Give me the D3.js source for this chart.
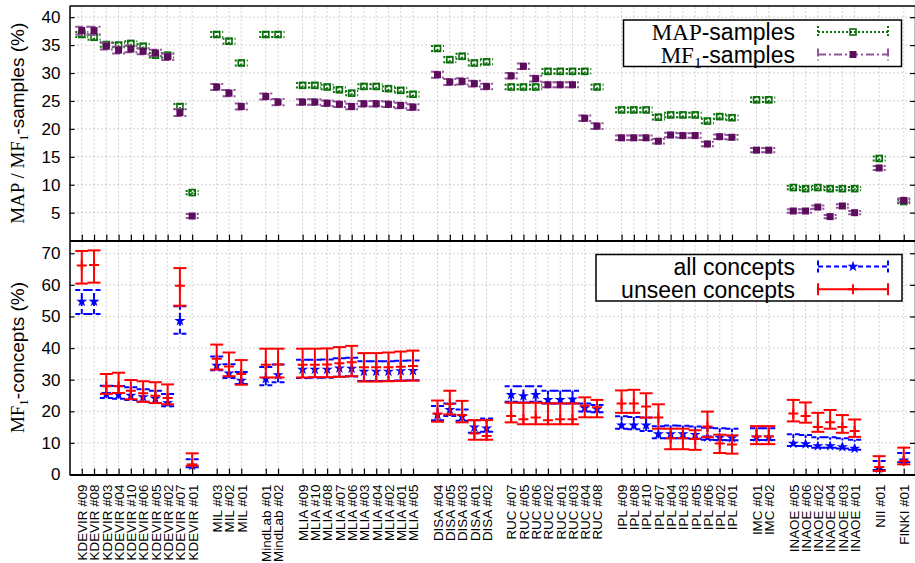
<!DOCTYPE html>
<html><head><meta charset="utf-8">
<script src="https://cdn.jsdelivr.net/npm/d3@7"></script>
<style>body{margin:0;background:#fff}</style>
</head><body><svg id="c" width="915" height="563"></svg>
<script>
// ---------------- data ----------------
const categories = [
 "KDEVIR #09","KDEVIR #08","KDEVIR #03","KDEVIR #04","KDEVIR #10","KDEVIR #06","KDEVIR #05","KDEVIR #02","KDEVIR #07","KDEVIR #01",
 "MIL #03","MIL #02","MIL #01",
 "MindLab #01","MindLab #02",
 "MLIA #09","MLIA #10","MLIA #08","MLIA #07","MLIA #06","MLIA #03","MLIA #04","MLIA #02","MLIA #01","MLIA #05",
 "DISA #04","DISA #05","DISA #03","DISA #01","DISA #02",
 "RUC #07","RUC #05","RUC #06","RUC #02","RUC #01","RUC #03","RUC #04","RUC #08",
 "IPL #09","IPL #08","IPL #10","IPL #07","IPL #04","IPL #03","IPL #05","IPL #06","IPL #02","IPL #01",
 "IMC #01","IMC #02",
 "INAOE #05","INAOE #06","INAOE #02","INAOE #04","INAOE #03","INAOE #01",
 "NII #01",
 "FINKI #01"
];
// top panel: MAP-samples and MF1-samples (value, half-width of bar)
const mapVal = [36.9,36.4,35.1,35.0,35.3,34.8,33.2,33.2,24.0,8.6,
 36.9,35.7,31.8, 36.9,36.9,
 27.8,27.8,27.5,27.0,26.4,27.6,27.6,27.2,26.9,26.2,
 34.4,32.4,33.0,31.8,32.0,
 27.5,27.5,27.5,30.3,30.3,30.3,30.3,27.5,
 23.4,23.4,23.4,22.1,22.5,22.5,22.5,21.4,22.2,22.0,
 25.2,25.2,
 9.5,9.3,9.5,9.3,9.3,9.3,
 14.7,
 7.0];
const mapErr = [0.45,0.45,0.4,0.4,0.4,0.4,0.4,0.4,0.45,0.3,
 0.45,0.45,0.45, 0.45,0.45,
 0.4,0.4,0.4,0.4,0.4,0.4,0.4,0.4,0.4,0.4,
 0.45,0.45,0.45,0.45,0.45,
 0.4,0.4,0.4,0.4,0.4,0.4,0.4,0.4,
 0.4,0.4,0.4,0.4,0.4,0.4,0.4,0.4,0.4,0.4,
 0.4,0.4,
 0.3,0.3,0.3,0.3,0.3,0.3,
 0.35,
 0.3];
const mf1Val = [37.6,37.6,34.8,34.1,34.3,33.9,33.6,32.9,22.9,4.4,
 27.5,26.4,24.0, 25.8,24.8,
 24.8,24.8,24.6,24.4,24.0,24.5,24.5,24.4,24.2,23.9,
 29.7,28.4,28.5,28.1,27.6,
 29.5,31.2,29.0,27.9,27.9,27.9,21.9,20.5,
 18.4,18.4,18.4,17.8,18.9,18.8,18.8,17.3,18.6,18.5,
 16.2,16.2,
 5.3,5.3,6.0,4.3,6.2,5.0,
 13.0,
 7.2];
const mf1Err = [0.7,0.7,0.6,0.6,0.6,0.55,0.55,0.55,0.6,0.35,
 0.55,0.55,0.55, 0.55,0.55,
 0.5,0.5,0.5,0.5,0.5,0.5,0.5,0.5,0.5,0.5,
 0.55,0.55,0.55,0.5,0.5,
 0.5,0.5,0.5,0.45,0.45,0.45,0.5,0.5,
 0.4,0.4,0.4,0.4,0.4,0.4,0.4,0.4,0.4,0.4,
 0.4,0.4,
 0.3,0.3,0.3,0.3,0.3,0.3,
 0.35,
 0.35];
// bottom panel: MF1-concepts, all concepts and unseen concepts (value, low, high)
const allVal = [54.7,54.7,25.5,25.3,25.0,24.5,24.0,22.6,48.6,2.8,
 34.5,32.0,29.7, 30.3,31.5,
 33.2,33.2,33.2,33.6,33.5,32.6,32.6,32.6,32.7,32.8,
 18.9,20.5,18.3,14.9,14.6,
 25.2,24.8,25.2,23.6,23.6,23.8,21.0,20.7,
 15.6,15.6,15.6,12.8,12.8,12.8,12.6,11.8,11.7,11.5,
 11.8,11.8,
 9.8,9.6,9.0,9.0,8.7,8.2,
 1.9,
 4.5];
const allLo = [50.8,50.8,24.2,24.0,23.6,23.0,22.6,21.6,44.5,2.3,
 33.0,30.5,28.6, 28.2,29.2,
 30.5,30.6,30.6,30.9,31.0,29.6,29.6,29.6,29.7,29.8,
 17.2,18.5,17.0,13.2,13.5,
 23.0,22.8,23.0,22.5,22.5,22.5,19.9,19.7,
 14.5,14.3,13.8,11.5,11.5,11.5,11.3,11.0,10.9,10.8,
 10.9,10.9,
 9.0,9.0,8.5,8.5,8.2,7.8,
 1.4,
 3.9];
const allHi = [58.4,58.4,28.1,28.0,27.6,27.0,26.5,25.5,53.2,4.8,
 37.3,34.9,32.4, 34.0,34.8,
 36.3,36.3,36.4,36.8,36.9,35.8,35.8,35.8,36.0,36.1,
 21.7,22.5,20.6,17.2,17.7,
 27.9,27.9,27.9,26.5,26.5,26.5,22.5,22.0,
 18.4,18.2,18.0,15.3,15.5,15.4,15.2,14.8,14.6,14.5,
 14.6,14.6,
 12.7,12.5,11.8,11.8,11.5,11.0,
 4.3,
 6.8];
const unseenVal = [66.1,66.3,27.9,27.9,26.5,25.7,24.9,24.2,59.7,3.2,
 36.6,34.2,31.8, 34.7,34.8,
 34.7,34.7,34.8,35.2,35.5,33.9,33.9,33.9,34.1,34.3,
 19.3,22.3,18.8,13.0,12.2,
 18.5,17.5,18.0,17.2,17.5,17.5,21.8,21.3,
 22.5,22.5,21.5,18.0,11.5,11.5,11.2,15.2,9.8,9.5,
 12.0,12.0,
 19.3,18.5,15.0,16.5,15.0,13.8,
 2.4,
 4.3];
const unseenLo = [60.4,60.7,25.5,25.8,23.8,23.0,22.6,22.2,53.4,2.8,
 33.2,31.1,28.4, 30.7,30.7,
 30.7,30.8,30.8,30.9,31.1,29.4,29.4,29.5,29.6,29.7,
 16.7,19.0,16.5,11.0,11.0,
 16.5,15.9,15.9,15.9,15.9,15.9,18.1,18.1,
 19.5,19.5,18.0,14.5,8.0,8.0,7.8,11.8,6.8,6.6,
 9.6,9.6,
 16.8,16.4,13.5,14.5,13.2,11.9,
 1.1,
 3.2];
const unseenHi = [70.7,70.9,31.8,32.2,29.9,29.5,29.2,28.5,65.3,6.7,
 41.1,38.6,36.2, 39.8,39.8,
 39.8,39.8,39.9,40.3,40.7,38.4,38.4,38.6,38.9,39.2,
 23.4,26.5,23.3,17.2,17.2,
 22.7,22.7,22.7,22.5,22.5,22.5,24.4,23.6,
 26.6,26.8,25.7,22.2,14.5,14.5,14.0,19.9,12.6,12.4,
 15.3,15.3,
 23.6,22.8,19.5,20.4,18.8,17.4,
 5.8,
 8.5];
const topTicks = [5,10,15,20,25,30,35,40];
const bottomTicks = [0,10,20,30,40,50,60,70];

// ---------------- layout ----------------
const svg = d3.select("#c");
const L = 69.5, R = 916;
// group positions: one empty slot between different teams
const team = c => c.split(" ")[0];
const pos = [];
{ let p = 0; categories.forEach((c,i)=>{ if(i>0 && team(c)!==team(categories[i-1])) p++; pos.push(p); p++; }); }
const x = d3.scaleLinear().domain([-1, 68]).range([L, R]);
const yT = d3.scaleLinear().domain([0, 42]).range([240.6, 6]);
const yB = d3.scaleLinear().domain([0, 74]).range([474.5, 240.6]);

const SANS = "'Liberation Sans', Arial, sans-serif";
const SERIF = "'Liberation Serif', 'Times New Roman', serif";

// ---------------- grid ----------------
function grid(yS, ticks) {
  const g = svg.append("g").attr("stroke","#a8a8a8").attr("stroke-width",1).attr("stroke-dasharray","1,3");
  const [y0, y1] = yS.range();
  g.selectAll("line.h").data(ticks.filter(t=>t>0)).join("line")
    .attr("x1", L).attr("x2", R).attr("y1", d=>yS(d)).attr("y2", d=>yS(d));
  g.selectAll("line.v").data(pos).join("line").attr("class","v")
    .attr("x1", d=>x(d)).attr("x2", d=>x(d)).attr("y1", y0).attr("y2", y1);
}
grid(yT, topTicks);
grid(yB, bottomTicks);

// ---------------- error bars ----------------
function errbars(yS, val, lo, hi, st) {
  const g = svg.append("g");
  const cw = 6.5;
  const idx = d3.range(val.length);
  const lines = g.append("g").attr("stroke", st.line).attr("stroke-width", st.w)
    .attr("stroke-dasharray", st.dash || null).attr("fill","none");
  lines.selectAll("line.v").data(idx).join("line")
    .attr("x1", i=>x(pos[i])).attr("x2", i=>x(pos[i])).attr("y1", i=>yS(lo[i])).attr("y2", i=>yS(hi[i]));
  lines.selectAll("line.lo").data(idx).join("line").attr("class","lo")
    .attr("x1", i=>x(pos[i])-cw).attr("x2", i=>x(pos[i])+cw).attr("y1", i=>yS(lo[i])).attr("y2", i=>yS(lo[i]));
  lines.selectAll("line.hi").data(idx).join("line").attr("class","hi")
    .attr("x1", i=>x(pos[i])-cw).attr("x2", i=>x(pos[i])+cw).attr("y1", i=>yS(hi[i])).attr("y2", i=>yS(hi[i]));
  const m = g.append("g");
  idx.forEach(i => drawMarker(m, x(pos[i]), yS(val[i]), st));
}
function drawMarker(g, cx, cy, st) {
  if (st.marker === "osquare") {
    g.append("rect").attr("x", cx-3).attr("y", cy-3).attr("width",6).attr("height",6)
      .attr("fill","none").attr("stroke", st.mcol).attr("stroke-width",1.6);
  } else if (st.marker === "fsquare") {
    g.append("rect").attr("x", cx-3.5).attr("y", cy-3.5).attr("width",7).attr("height",7)
      .attr("fill", st.mcol);
  } else if (st.marker === "star") {
    g.append("path").attr("d", d3.symbol(d3.symbolStar, 38)()).attr("transform",`translate(${cx},${cy})`)
      .attr("fill", st.mcol);
  } else if (st.marker === "plus") {
    g.append("path").attr("d", `M${cx-5},${cy}H${cx+5}M${cx},${cy-5}V${cy+5}`)
      .attr("stroke", st.mcol).attr("stroke-width",2);
  }
}
const stMAP = {line:"#0a6e0a", w:2, dash:"2,2", marker:"osquare", mcol:"#0a6e0a"};
const stMF1 = {line:"#92569a", w:2, dash:"8,3,2,3", marker:"fsquare", mcol:"#5c0d5c"};
const stAll = {line:"#0000ff", w:2, dash:"5,3", marker:"star", mcol:"#0000ff"};
const stUns = {line:"#ff0000", w:2, dash:null, marker:"plus", mcol:"#ff0000"};

errbars(yT, mapVal, mapVal.map((v,i)=>v-mapErr[i]), mapVal.map((v,i)=>v+mapErr[i]), stMAP);
errbars(yT, mf1Val, mf1Val.map((v,i)=>v-mf1Err[i]), mf1Val.map((v,i)=>v+mf1Err[i]), stMF1);
errbars(yB, allVal, allLo, allHi, stAll);
errbars(yB, unseenVal, unseenLo, unseenHi, stUns);

// ---------------- axes ----------------
function styleAxis(g, w) {
  g.select(".domain").attr("stroke","#000").attr("stroke-width", w);
  g.selectAll(".tick line").attr("stroke","#000").attr("stroke-width",1.2);
  g.selectAll(".tick text").attr("fill","#000");
  g.attr("font-family", SANS);
}
// top panel
styleAxis(svg.append("g").attr("transform",`translate(${L},0)`)
  .call(d3.axisLeft(yT).tickValues(topTicks).tickSizeInner(-5).tickSizeOuter(0).tickPadding(9))
  .attr("font-size",17), 1.5);
styleAxis(svg.append("g").attr("transform",`translate(${R-1},0)`)
  .call(d3.axisRight(yT).tickValues(topTicks).tickSizeInner(-5).tickSizeOuter(0).tickFormat("")), 1.5);
styleAxis(svg.append("g").attr("transform",`translate(0,${yT(0)})`)
  .call(d3.axisBottom(x).tickValues(pos).tickSizeInner(-6).tickSizeOuter(0).tickFormat("")), 2);
svg.append("line").attr("x1",L).attr("x2",R).attr("y1",yT.range()[1]).attr("y2",yT.range()[1])
  .attr("stroke","#000").attr("stroke-width",1.5);
// bottom panel
styleAxis(svg.append("g").attr("transform",`translate(${L},0)`)
  .call(d3.axisLeft(yB).tickValues(bottomTicks).tickSizeInner(-5).tickSizeOuter(0).tickPadding(9))
  .attr("font-size",17), 1.5);
styleAxis(svg.append("g").attr("transform",`translate(${R-1},0)`)
  .call(d3.axisRight(yB).tickValues(bottomTicks).tickSizeInner(-5).tickSizeOuter(0).tickFormat("")), 1.5);
const xb = svg.append("g").attr("transform",`translate(0,${yB(0)})`)
  .call(d3.axisBottom(x).tickValues(pos).tickSizeInner(-6).tickSizeOuter(0)
    .tickFormat((d)=>categories[pos.indexOf(d)]));
styleAxis(xb, 2);
xb.attr("font-size",13.4);
xb.selectAll(".tick text").attr("transform","rotate(-90)").attr("x",-10).attr("y",0)
  .attr("dy","0.36em").attr("text-anchor","end");

// ---------------- axis titles ----------------
function rich(textSel, parts, size) {
  parts.forEach(p => {
    const t = textSel.append("tspan").text(p.t)
      .attr("font-family", p.serif ? SERIF : SANS);
    if (p.sub) t.attr("font-size", size*0.68).attr("dy", size*0.22);
    else if (p.after) t.attr("dy", -size*0.22);
  });
}
const yl1 = svg.append("text").attr("transform",`translate(24,${(yT.range()[0]+yT.range()[1])/2}) rotate(-90)`)
  .attr("text-anchor","middle").attr("font-size",19).attr("fill","#000");
rich(yl1, [{t:"MAP / MF",serif:true},{t:"1",serif:true,sub:true},{t:"-samples (%)",after:true}], 19);
const yl2 = svg.append("text").attr("transform",`translate(24,${(yB.range()[0]+yB.range()[1])/2}) rotate(-90)`)
  .attr("text-anchor","middle").attr("font-size",19).attr("fill","#000");
rich(yl2, [{t:"MF",serif:true},{t:"1",serif:true,sub:true},{t:"-concepts (%)",after:true}], 19);

// ---------------- legends ----------------
function legend(bx, by, bw, bh, rows) {
  const g = svg.append("g");
  g.append("rect").attr("x",bx).attr("y",by).attr("width",bw).attr("height",bh)
    .attr("fill","#fff").attr("stroke","#000").attr("stroke-width",1.5);
  rows.forEach(r => {
    const t = g.append("text").attr("x",795).attr("y",r.y).attr("dy","0.36em")
      .attr("text-anchor","end").attr("font-size",23).attr("fill","#000");
    rich(t, r.parts, 23);
    const s = r.st, x0 = 818, x1 = 888;
    const lg = g.append("g").attr("stroke", s.line).attr("stroke-width", s.w)
      .attr("stroke-dasharray", s.dash || null);
    lg.append("line").attr("x1",x0).attr("x2",x1).attr("y1",r.y).attr("y2",r.y);
    lg.append("line").attr("x1",x0).attr("x2",x0).attr("y1",r.y-6).attr("y2",r.y+6);
    lg.append("line").attr("x1",x1).attr("x2",x1).attr("y1",r.y-6).attr("y2",r.y+6);
    drawMarker(g, (x0+x1)/2, r.y, s);
  });
}
legend(623.5, 20, 278, 46.5, [
  {y:32, st:stMAP, parts:[{t:"MAP",serif:true},{t:"-samples"}]},
  {y:54.5, st:stMF1, parts:[{t:"MF",serif:true},{t:"1",serif:true,sub:true},{t:"-samples",after:true}]}
]);
legend(596, 254.5, 306, 46.5, [
  {y:266.5, st:stAll, parts:[{t:"all concepts"}]},
  {y:289.3, st:stUns, parts:[{t:"unseen concepts"}]}
]);
</script>
</body></html>
